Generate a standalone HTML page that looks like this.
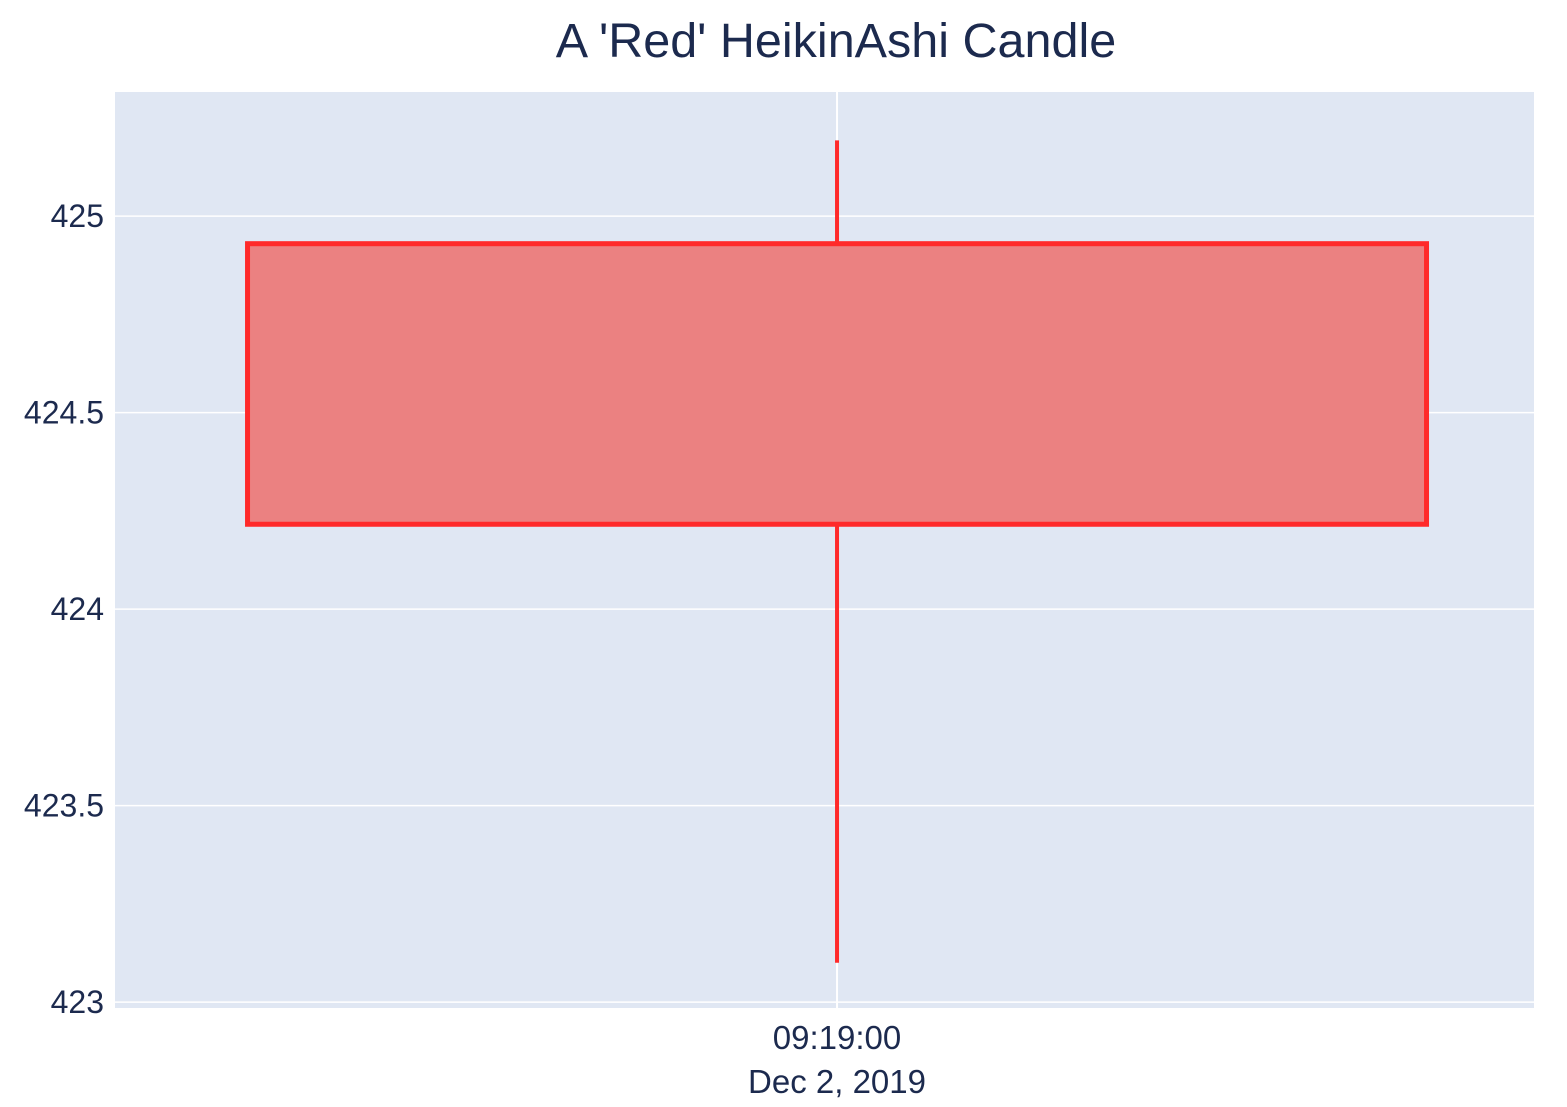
<!DOCTYPE html>
<html><head><meta charset="utf-8"><style>
body{margin:0;background:#fff;}
svg text{font-family:"Liberation Sans",sans-serif;fill:#1c2a4e;}
</style></head><body>
<svg id="chart" width="1567" height="1102">
<text x="836" y="57" font-size="48.5" text-anchor="middle">A 'Red' HeikinAshi Candle</text>
<rect x="115" y="92" width="1419" height="916" fill="#e0e7f3"/>
<g id="grid"></g><g id="marks"></g><g id="labels"></g>
</svg>
<script>
const yTicks=[423,423.5,424,424.5,425];
const yTickLabels=["423","423.5","424","424.5","425"];
const xCategories=["09:19:00"];
const xSubLabels=["Dec 2, 2019"];
const opens=[424.93];
const highs=[425.193];
const lows=[423.10];
const closes=[424.216];

const L=115,R=1534,T=92,B=1008,yMin=422.985,yMax=425.316;
const xMin=-0.6167,xMax=0.5953;
const ys=v=>B-(v-yMin)/(yMax-yMin)*(B-T);
const xs=i=>L+(i-xMin)/(xMax-xMin)*(R-L);
const NS="http://www.w3.org/2000/svg";
const mk=(t,a,p)=>{const e=document.createElementNS(NS,t);for(const k in a)e.setAttribute(k,a[k]);p.appendChild(e);return e;};
const grid=document.getElementById('grid'),marks=document.getElementById('marks'),labels=document.getElementById('labels');
yTicks.forEach((v,i)=>{
  const g=mk('line',{x1:L,x2:R,y1:ys(v),y2:ys(v),stroke:'#fff','stroke-width':1.5},grid);
  
  
  const t=mk('text',{x:104,y:ys(v)+11,'font-size':32,'text-anchor':'end'},labels);
  t.textContent=yTickLabels[i];
  
  
});
xCategories.forEach((c,i)=>{
  const g=mk('line',{x1:xs(i),x2:xs(i),y1:T,y2:B,stroke:'#fff','stroke-width':2},grid);
  
  
  const t=mk('text',{x:xs(i),y:1049,'font-size':33,'text-anchor':'middle'},labels);
  t.textContent=c;
  
  
  const t2=mk('text',{x:xs(i),y:1093,'font-size':33,'text-anchor':'middle'},labels);
  t2.textContent=xSubLabels[i];
  
  
});
const bw=1.007*(R-L)/(xMax-xMin);
xCategories.forEach((c,i)=>{
  const top=Math.max(opens[i],closes[i]),bot=Math.min(opens[i],closes[i]);
  const w=mk('line',{x1:xs(i),x2:xs(i),y1:ys(highs[i]),y2:ys(lows[i]),stroke:'#ff2a2a','stroke-width':4},marks);
  
  
  const b=mk('rect',{x:xs(i)-bw/2,y:ys(top),width:bw,height:ys(bot)-ys(top),fill:'#eb8181',stroke:'#ff2a2a','stroke-width':5},marks);
  
  
});
</script>
</body></html>
